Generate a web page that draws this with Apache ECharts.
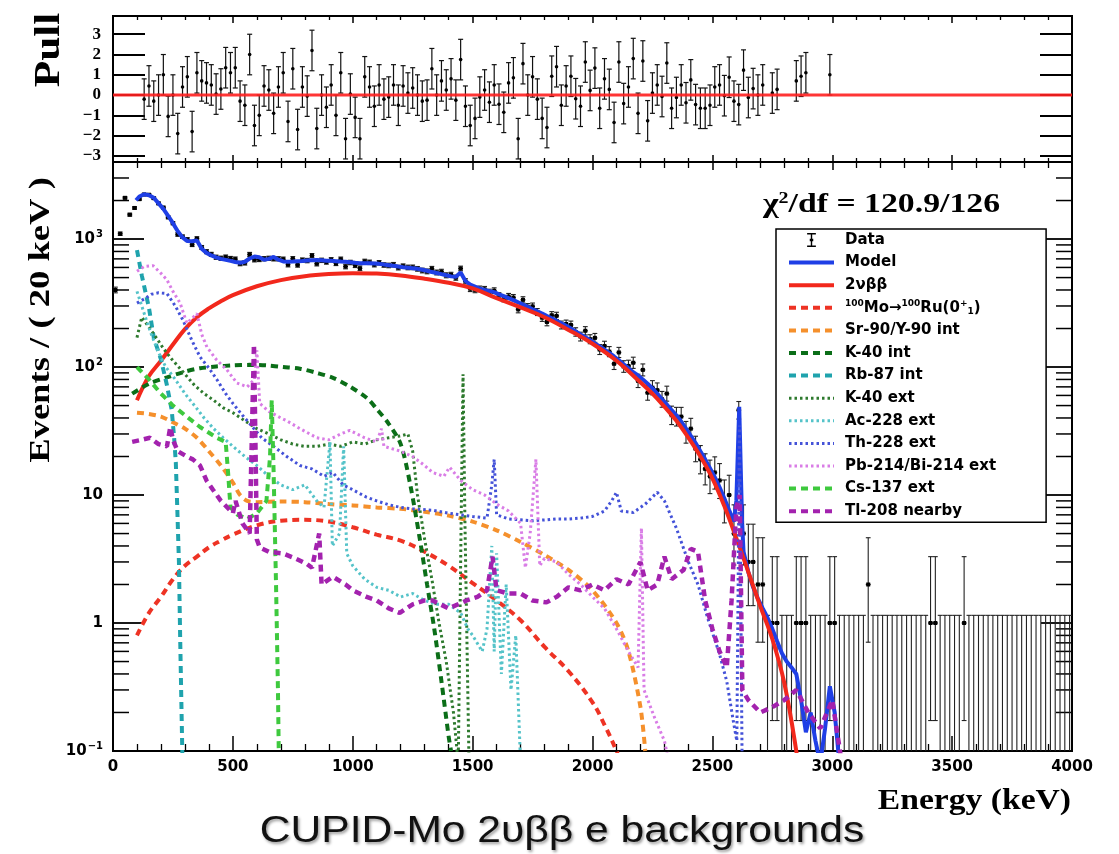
<!DOCTYPE html>
<html>
<head>
<meta charset="utf-8">
<script src="https://cdn.jsdelivr.net/npm/echarts@6.0.0/dist/echarts.min.js"></script>
<style>
  html, body { margin: 0; padding: 0; background: #ffffff; }
  #chart { width: 1119px; height: 854px; }
</style>
</head>
<body>
<div id="chart"></div>
<script>
// ---- Histogram definition: 20 keV bins, first bin centred at 10 keV ----
const binWidth = 20;
const firstBinCenter = 10;

// Observed counts per 20 keV bin (10 keV ... 3990 keV), five bins per row
const dataCounts = [
  400, 1100, 2100, 1550, 1750,
  2050, 2230, 2220, 2086, 1900,
  1761, 1479, 1330, 1086, 1043,
  993, 904, 1009, 860, 797,
  759, 721, 708, 723, 704,
  697, 644, 652, 758, 689,
  693, 702, 707, 701, 701,
  696, 631, 702, 628, 685,
  679, 742, 642, 682, 662,
  689, 646, 696, 610, 656,
  624, 591, 669, 658, 631,
  653, 627, 622, 630, 598,
  614, 600, 601, 585, 568,
  559, 586, 548, 556, 521,
  526, 499, 589, 468, 409,
  401, 408, 405, 385, 395,
  361, 342, 356, 349, 282,
  335, 295, 298, 269, 243,
  225, 254, 251, 213, 217,
  213, 188, 173, 192, 165,
  169, 137, 146, 132, 106,
  130, 101, 102, 108, 78,
  95, 63, 69, 66, 56,
  62, 42, 41, 41, 31,
  33, 23, 19, 16, 14,
  15, 13, 9, 10, 5,
  46, 5, 3, 3, 2,
  2, 0, 1, 1, 0,
  0, 0, 1, 1, 1,
  0, 0, 0, 0, 1,
  1, 0, 0, 0, 0,
  0, 0, 2, 0, 0,
  0, 0, 0, 0, 0,
  0, 0, 0, 0, 0,
  1, 1, 0, 0, 0,
  0, 0, 1, 0, 0,
  0, 0, 0, 0, 0,
  0, 0, 0, 0, 0,
  0, 0, 0, 0, 0,
  0, 0, 0, 0, 0
];

// Fit residuals (pulls) for the contiguous fit bins 130 ... 2710 keV
const pullStart = 130;
const pullValues = [
  -0.2, 0.45, -0.3, 0, 1.0, -1.05, 0, -1.9, 0.4, 0.9,
  -1.8, 1.1, 0.7, 0.6, 0.5, 0.05, 0.3, 1.35, 1.1, 1.35,
  -0.3, -0.5, 2.0, -1.5, -1.0, 0.45, 0.25, -0.9, 0.4, 1.1,
  -1.3, 1.3, -1.7, 0.4, -0.05, 2.2, -1.65, 0, -0.6, 0.5,
  -1.0, 1.1, -2.15, 0.05, -1.1, -2.15, 0.9, 0.4, -0.55, 0.5,
  -0.2, -0.1, 0.5, -0.5, 0.45, 0.1, 0.35, 0, -0.3, -0.25,
  1.3, 0, 0.7, 0.25, 0.8, -0.25, 1.75, -0.55, -1.5, -1.15,
  -0.1, 0.25, -0.35, 0.5, -0.45, -0.85, 0.6, 0.85, -2.15, 1.55,
  0, 0.9, -0.2, -1.15, -1.6,
  0.93, 1.4, -0.5, 0.45, 0.93, -0.18, -0.55, 1.63, 0.23, 1.33,
  -0.65, 0.8, 0.28, -1.35, 1.63, -0.42, 0.4, 1.8, -0.9, 1.68,
  -1.27, 0.1, 0.5, -0.07, 1.58, -0.65, -0.12, 0.5, -0.38, 0.75,
  -0.47, -0.65, -0.65, -0.5, 0.4, 0.5, -0.03, 0.88, -0.3, -0.47,
  1.23, -0.12, 0.32, 0, 0.5
];
// Remaining sparse fit bins above 2710 keV: [energy, pull]
const pullTail = [[2750, 0.1], [2770, 0.28], [2850, 0.7], [2870, 0.93], [2890, 1.1], [2990, 1.0]];

// Total fit model: [energy keV, events / 20 keV]
const modelCurve = [
  [96,2010],[110,2150],[130,2240],[150,2200],[170,2100],[190,1900],[210,1720],[230,1520],[250,1330],[270,1150],
  [290,1030],[310,965],[330,960],[350,975],[370,840],[390,780],[410,745],[430,720],[450,700],[470,688],
  [490,675],[510,662],[530,652],[550,665],[570,705],[590,730],[610,720],[630,690],[650,700],[670,725],
  [690,690],[710,668],[730,665],[750,668],[770,672],[790,675],[810,680],[830,684],[850,685],[870,682],
  [890,678],[910,676],[930,672],[950,668],[970,665],[990,660],[1010,652],[1030,646],[1050,646],[1070,648],
  [1090,645],[1110,640],[1130,632],[1150,625],[1170,618],[1190,610],[1210,603],[1230,598],[1250,592],[1270,585],
  [1290,575],[1310,565],[1330,552],[1350,543],[1370,532],[1390,521],[1410,511],[1430,508],[1450,548],[1470,470],
  [1490,440],[1510,425],[1530,410],[1550,400],[1570,392],[1590,385],[1610,370],[1630,358],[1650,345],[1670,333],
  [1690,320],[1710,308],[1730,295],[1750,283],[1770,272],[1790,262],[1810,250],[1830,240],[1850,230],[1870,220],
  [1890,210],[1910,200],[1930,190],[1950,180],[1970,171],[1990,162],[2010,153],[2030,145],[2050,137],[2070,129],
  [2090,121],[2110,113],[2130,105],[2150,98],[2170,91],[2190,86],[2210,80],[2230,74],[2250,68],[2270,62],
  [2290,56],[2310,51],[2330,46],[2350,42],[2370,37.5],[2390,33],[2410,29],[2430,25.5],[2450,22],[2470,19],
  [2490,16.2],[2510,13.8],[2530,11.5],[2550,9.4],[2570,7.6],[2590,6.2],[2600,9],[2612,49],[2624,6],[2630,3.6],
  [2650,2.5],[2670,1.9],[2690,1.55],[2710,1.3],[2730,1.1],[2750,0.9],[2770,0.72],[2790,0.58],[2810,0.5],[2830,0.45],
  [2850,0.4],[2870,0.25],[2890,0.14],[2910,0.2],[2930,0.12],[2950,0.08],[2970,0.15],[2990,0.32],[3010,0.2],[3030,0.08]
];

// Signal: 2-neutrino double beta decay to the ground state
const twoNuCurve = [
  [100,55],[150,85],[200,112],[250,150],[300,198],[350,245],[400,287],[450,327],[500,365],[600,428],
  [700,478],[800,513],[900,533],[1000,541],[1100,537],[1200,520],[1300,490],[1400,455],[1500,412],[1600,345],
  [1700,292],[1800,245],[1900,195],[2000,152],[2100,112],[2200,76],[2250,62],[2300,49],[2350,38],[2400,28],
  [2450,20],[2500,13.5],[2550,8.2],[2600,4.6],[2650,2.5],[2700,1.35],[2750,0.75],[2800,0.34],[2850,0.1],[2870,0.05]
];

// Background components
const moRuCurve = [
  [100,0.8],[150,1.2],[200,1.6],[250,2.2],[300,2.8],[350,3.3],[400,3.9],[450,4.4],[500,4.9],[600,5.8],
  [700,6.3],[800,6.4],[900,6.2],[1000,5.6],[1100,4.9],[1200,4.4],[1300,3.6],[1400,2.8],[1500,2.05],[1600,1.5],
  [1700,1.05],[1800,0.65],[1900,0.42],[2000,0.24],[2050,0.16],[2100,0.1],[2130,0.07]
];
const srYCurve = [
  [100,44],[150,43],[200,41],[250,37],[300,33],[350,28],[400,22],[450,17],[500,12.5],[530,10],
  [560,9],[600,8.8],[700,8.9],[800,8.8],[900,8.5],[1000,8.3],[1100,8.0],[1200,7.8],[1300,7.4],[1400,6.9],
  [1500,6.2],[1600,5.3],[1700,4.3],[1800,3.4],[1900,2.6],[2000,1.8],[2100,1.0],[2150,0.6],[2200,0.22],[2220,0.1]
];
const k40IntCurve = [
  [80,62],[150,74],[225,83],[300,92],[363,98],[430,101],[500,103],[570,104],[640,103],[710,100],
  [780,97],[850,90],[920,82],[990,70],[1060,57],[1100,47],[1150,36],[1200,25],[1240,12],[1280,4.5],
  [1310,2],[1340,0.9],[1370,0.35],[1400,0.13],[1410,0.1]
];
const rb87Curve = [
  [100,820],[120,520],[150,290],[170,170],[200,115],[225,72],[245,46],[255,28],[262,18],[268,8],
  [275,3],[280,0.8],[285,0.25],[290,0.08]
];
const k40ExtCurve = [
  [100,170],[120,245],[150,205],[180,170],[210,140],[240,118],[270,102],[300,88],[340,72],[380,62],
  [420,55],[460,48],[500,44],[550,38],[600,33],[650,30],[700,27],[750,25],[800,24],[850,24],
  [900,25],[950,24],[1000,26],[1050,25],[1100,27],[1150,28],[1200,29],[1230,30],[1250,22],[1270,10],
  [1300,4.5],[1330,2.2],[1360,1.0],[1390,0.5],[1420,0.2],[1440,0.08],[1452,6],[1460,88],[1468,6],[1485,0.08]
];
const ac228Curve = [
  [100,390],[120,300],[140,230],[160,180],[190,130],[220,100],[260,80],[300,62],[340,50],[380,40],
  [420,33],[460,28],[500,24],[550,20],[600,17],[650,14],[700,12],[750,11],[800,12],[850,9],
  [880,8],[905,26],[915,4],[945,5],[962,24],[975,3.5],[1000,2.8],[1050,2.2],[1100,1.9],[1150,1.8],
  [1200,1.6],[1250,1.7],[1300,1.5],[1350,1.4],[1400,1.4],[1450,1.2],[1480,0.9],[1500,0.8],[1540,0.6],[1560,0.9],
  [1580,4],[1590,0.6],[1600,3.5],[1620,0.4],[1640,2.0],[1660,0.3],[1680,0.8],[1700,0.08]
];
const th228Curve = [
  [100,316],[130,340],[160,370],[190,380],[225,375],[260,300],[292,232],[330,160],[363,120],[400,98],
  [433,80],[470,62],[500,52],[540,42],[571,36],[620,28],[670,24],[725,20],[780,17],[830,16],
  [880,14],[917,15],[960,12],[1000,11],[1058,9.6],[1100,9],[1150,8.4],[1200,8],[1250,7.8],[1333,7.6],
  [1400,7.2],[1450,7],[1500,6.8],[1560,6.6],[1580,12],[1590,19],[1600,7],[1650,6.5],[1700,6.4],[1750,6.3],
  [1808,6.4],[1850,6.5],[1900,6.5],[1950,6.6],[2000,6.8],[2050,7.5],[2080,9],[2100,10.5],[2120,7.5],[2170,7.3],
  [2220,8.5],[2270,10.5],[2300,9],[2350,5.5],[2400,3],[2440,2],[2480,1.1],[2530,0.57],[2560,0.35],[2590,0.16],
  [2602,0.12],[2613,35],[2624,0.08]
];
const pbBiCurve = [
  [100,560],[130,610],[167,620],[200,540],[225,480],[250,390],[280,316],[308,220],[330,240],[350,262],
  [370,180],[392,143],[430,115],[475,95],[517,75],[560,70],[590,80],[600,135],[612,52],[650,45],
  [700,40],[725,38],[780,33],[850,28],[900,27],[950,30],[988,32],[1050,28],[1100,26],[1120,33],
  [1130,24],[1200,22],[1250,20],[1300,17],[1333,15],[1380,14],[1404,16.5],[1450,13],[1500,11],[1550,10],
  [1600,8.5],[1650,7.5],[1700,6],[1720,2.7],[1740,5],[1764,19],[1780,2.8],[1800,3.2],[1850,3.0],[1900,2.4],
  [1950,2.0],[2000,1.6],[2050,1.3],[2100,0.9],[2150,0.6],[2190,0.45],[2204,5.5],[2215,0.3],[2260,0.18],[2300,0.12],
  [2320,0.08]
];
const cs137Curve = [
  [100,100],[150,80],[200,62],[250,50],[300,42],[363,34],[433,28],[470,26],[480,15],[490,8],
  [520,7],[560,6.5],[600,7.2],[640,9],[655,20],[662,55],[670,15],[680,2],[688,0.3],[692,0.08]
];
const tl208Curve = [
  [80,26],[120,27],[154,28],[190,25],[225,24],[239,34],[250,27],[270,22],[308,20],[333,19],
  [363,17],[390,13],[417,11],[450,9],[500,7.2],[511,9],[540,6],[570,5],[588,150],[600,4.5],
  [612,3.9],[650,3.6],[708,3.5],[760,3.2],[808,2.9],[830,2.7],[860,5],[870,2.0],[917,2.3],[970,2.0],
  [1000,1.8],[1058,1.6],[1100,1.5],[1150,1.3],[1196,1.2],[1250,1.4],[1300,1.5],[1333,1.5],[1400,1.3],[1475,1.5],
  [1520,1.6],[1560,1.8],[1583,3.3],[1600,1.8],[1650,1.7],[1700,1.7],[1750,1.5],[1808,1.45],[1850,1.6],[1900,1.9],
  [1950,1.8],[2000,2.0],[2050,1.8],[2100,2.2],[2150,2.0],[2200,3.0],[2230,1.8],[2270,2.0],[2300,3.3],[2330,2.2],
  [2380,2.6],[2410,3.8],[2440,3.6],[2470,1.5],[2500,0.9],[2530,0.6],[2560,0.45],[2580,1.5],[2600,8],[2614,10],
  [2625,0.3],[2650,0.25],[2700,0.2],[2750,0.22],[2800,0.25],[2850,0.3],[2900,0.2],[2950,0.15],[3000,0.25],[3040,0.08]
];

// Log-axis minor tick values (2..9 per decade)
const logMinorTicks = [0.2,0.3,0.4,0.5,0.6,0.7,0.8,0.9, 2,3,4,5,6,7,8,9, 20,30,40,50,60,70,80,90,
                       200,300,400,500,600,700,800,900, 2000,3000];

// ---- Axis ranges ----
const E_MIN = 0, E_MAX = 4000;
const Y_MIN = 0.1, Y_MAX = 4000;
const PULL_MIN = -3.3, PULL_MAX = 3.9;

// Poisson (Garwood) 68% intervals for small counts
const poissonLow  = [0, 0.173, 0.708, 1.367, 2.086, 2.840, 3.620, 4.419, 5.232, 6.057, 6.891];
const poissonHigh = [1.148, 3.300, 4.638, 5.918, 7.163, 8.382, 9.584, 10.77, 11.95, 13.11, 14.27];
function errLow(n)  { return n <= 10 ? poissonLow[n]  : n - Math.sqrt(n); }
function errHigh(n) { return n <= 10 ? poissonHigh[n] : n + Math.sqrt(n) + 1; }

const MO_RU = '100Mo→100Ru(0+1)';
const SANS = 'DejaVu Sans';
const SERIF = 'Liberation Serif';

const dataPoints = dataCounts.map((n, i) => [firstBinCenter + i * binWidth, n]);
const pullPoints = pullValues.map((p, i) => [pullStart + i * binWidth, p]).concat(pullTail);

function energyAxis(gridIndex, position, majorLen, minorLen, showLabels) {
  return {
    type: 'value', gridIndex, position, min: E_MIN, max: E_MAX, interval: 500,
    axisLine: { show: true, onZero: false, lineStyle: { color: '#000', width: 2 } },
    axisTick: { show: true, inside: true, length: majorLen, lineStyle: { color: '#000', width: 1.5 } },
    minorTick: { show: true, splitNumber: 5, length: minorLen, lineStyle: { color: '#000', width: 1.3 } },
    splitLine: { show: false },
    axisLabel: showLabels ? {
      show: true, margin: 9, color: '#000', fontFamily: SANS, fontWeight: 'bold', fontSize: 15,
      formatter: v => String(Math.round(v))
    } : { show: false }
  };
}

function pullAxis(position, showLabels) {
  return {
    type: 'value', gridIndex: 0, position, min: PULL_MIN, max: PULL_MAX,
    minInterval: 1, maxInterval: 1, splitNumber: 7,
    axisLine: { show: true, onZero: false, lineStyle: { color: '#000', width: 2 } },
    axisTick: { show: true, inside: true, length: 32, lineStyle: { color: '#000', width: 2 } },
    splitLine: { show: false },
    axisLabel: showLabels ? {
      show: true, margin: 12, color: '#000', fontFamily: SERIF, fontWeight: 'bold', fontSize: 17,
      showMinLabel: false, showMaxLabel: false,
      formatter: v => {
        const r = Math.round(v);
        if (Math.abs(v - r) > 1e-6) return '';
        return r < 0 ? '\u2212' + (-r) : String(r);
      }
    } : { show: false }
  };
}

function countAxis(position, showLabels) {
  return {
    type: 'log', logBase: 10, gridIndex: 1, position, min: Y_MIN, max: Y_MAX,
    axisLine: { show: true, onZero: false, lineStyle: { color: '#000', width: 2 } },
    axisTick: { show: true, inside: true, length: 31, lineStyle: { color: '#000', width: 1.8 } },
    splitLine: { show: false },
    axisLabel: showLabels ? {
      show: true, margin: 10, color: '#000', fontFamily: SANS, fontWeight: 'bold', fontSize: 15,
      formatter: v => {
        const lg = Math.log10(v), p = Math.round(lg);
        if (Math.abs(lg - p) > 1e-6) return '';
        if (p === 0) return '1';
        if (p === 1) return '10';
        return '10{sup|' + (p < 0 ? '\u2212' + (-p) : p) + '}';
      },
      rich: {
        sup: { fontFamily: SANS, fontWeight: 'bold', fontSize: 10, color: '#000', padding: [0, 0, 9, 1] }
      }
    } : { show: false }
  };
}

function curve(name, data, color, kind, extra) {
  const dashed = kind === 'dashed', dotted = kind === 'dotted';
  return Object.assign({
    name, type: 'line', xAxisIndex: 2, yAxisIndex: 2, data,
    symbol: 'none', showSymbol: false, silent: true, clip: true, z: 5,
    lineStyle: {
      color, width: dotted ? 3 : 4,
      type: dashed ? [7, 5] : dotted ? [2.5, 3] : 'solid', cap: 'butt'
    },
    itemStyle: { color }
  }, extra || {});
}

// legend sample strokes, matching the plotted strokes
const SOLID_KEY = { width: 4, type: 'solid' };
const DASH_KEY = { width: 4, type: [7, 5] };
const DOT_KEY = { width: 3, type: [2.5, 3] };

const option = {
  animation: false,
  backgroundColor: '#ffffff',
  grid: [
    { left: 113, top: 16, width: 959, height: 146, show: true, borderColor: '#000', borderWidth: 2, backgroundColor: 'transparent' },
    { left: 113, top: 162, width: 959, height: 589, show: true, borderColor: '#000', borderWidth: 2, backgroundColor: 'transparent' }
  ],
  xAxis: [
    energyAxis(0, 'bottom', 7, 4, false),
    energyAxis(0, 'top', 7, 4, false),
    energyAxis(1, 'bottom', 15, 7, true),
    energyAxis(1, 'top', 8, 6, false)
  ],
  yAxis: [
    pullAxis('left', true),
    pullAxis('right', false),
    countAxis('left', true),
    countAxis('right', false)
  ],
  legend: {
    orient: 'vertical', left: 776, top: 229,
    padding: [2, 50, 2, 11], itemGap: 4.6, itemWidth: 45, itemHeight: 14,
    backgroundColor: '#ffffff', borderColor: '#000', borderWidth: 1.5,
    selectedMode: false, z: 20,
    // line samples only: hide the marker that line series add to their legend icon
    itemStyle: { opacity: 0 },
    lineStyle: { opacity: 1, width: 'inherit', type: 'inherit' },
    textStyle: {
      fontFamily: SANS, fontWeight: 'bold', fontSize: 15, color: '#000', lineHeight: 18, padding: [0, 0, 0, 6],
      rich: {
        sup: { fontFamily: SANS, fontWeight: 'bold', fontSize: 9, color: '#000', lineHeight: 10, padding: [0, 0, 8, 0] },
        sub: { fontFamily: SANS, fontWeight: 'bold', fontSize: 9, color: '#000', lineHeight: 10, padding: [8, 0, 0, 0] },
        base: { fontFamily: SANS, fontWeight: 'bold', fontSize: 15, color: '#000', lineHeight: 18 }
      }
    },
    formatter: name => name === MO_RU
      ? '{sup|100}{base|Mo→}{sup|100}{base|Ru(0}{sup|+}{sub|1}{base|)}'
      : name,
    data: [
      { name: 'Data', icon: 'path://M0,0H10V1.6H0Z M4.2,0H5.8V16H4.2Z M0,14.4H10V16H0Z M3,6.5H7V9.5H3Z',
        itemStyle: { opacity: 1, color: '#000' } },
      { name: 'Model', lineStyle: SOLID_KEY },
      { name: '2νββ', lineStyle: SOLID_KEY },
      { name: MO_RU, lineStyle: DASH_KEY },
      { name: 'Sr-90/Y-90 int', lineStyle: DASH_KEY },
      { name: 'K-40 int', lineStyle: DASH_KEY },
      { name: 'Rb-87 int', lineStyle: DASH_KEY },
      { name: 'K-40 ext', lineStyle: DOT_KEY },
      { name: 'Ac-228 ext', lineStyle: DOT_KEY },
      { name: 'Th-228 ext', lineStyle: DOT_KEY },
      { name: 'Pb-214/Bi-214 ext', lineStyle: DOT_KEY },
      { name: 'Cs-137 ext', lineStyle: DASH_KEY },
      { name: 'Tl-208 nearby', lineStyle: DASH_KEY }
    ]
  },
  graphic: [
    {
      type: 'text', x: 50, y: 50, rotation: Math.PI / 2, scaleX: 1.2, z: 30,
      style: { text: 'Pull', fontFamily: SERIF, fontWeight: 'bold', fontSize: 36, fill: '#000',
               align: 'center', verticalAlign: 'middle' }
    },
    {
      type: 'text', x: 41, y: 320, rotation: Math.PI / 2, scaleX: 1.22, z: 30,
      style: { text: 'Events / ( 20 keV )', fontFamily: SERIF, fontWeight: 'bold', fontSize: 30, fill: '#000',
               align: 'center', verticalAlign: 'middle' }
    },
    {
      type: 'text', x: 1071, y: 801, scaleX: 1.12, z: 30,
      style: { text: 'Energy (keV)', fontFamily: SERIF, fontWeight: 'bold', fontSize: 30, fill: '#000',
               align: 'right', verticalAlign: 'middle' }
    },
    {
      type: 'text', x: 763, y: 205, scaleX: 1.25, z: 30,
      style: {
        text: 'χ{sup|2}/df = 120.9/126', fontFamily: SERIF, fontWeight: 'bold', fontSize: 27, fill: '#000',
        align: 'left', verticalAlign: 'middle',
        rich: { sup: { fontFamily: SERIF, fontWeight: 'bold', fontSize: 16, fill: '#000', padding: [0, 0, 12, 0] } }
      }
    },
    {
      type: 'text', x: 562, y: 832, scaleX: 1.15, z: 30,
      style: {
        text: 'CUPID-Mo 2υββ e backgrounds', fontFamily: 'Liberation Sans', fontSize: 37, fill: '#111',
        align: 'center', verticalAlign: 'middle',
        textShadowColor: 'rgba(0,0,0,0.4)', textShadowBlur: 3, textShadowOffsetX: 1.5, textShadowOffsetY: 1.5
      }
    }
  ],
  series: [
    // Pull panel: residual points with unit error bars
    {
      name: 'Pull', type: 'custom', xAxisIndex: 0, yAxisIndex: 0, data: pullPoints, silent: true, z: 4,
      itemStyle: { color: '#000' },
      renderItem: (params, api) => {
        const e = api.value(0), p = api.value(1);
        const c = api.coord([e, p]);
        const lo = api.coord([e, Math.max(p - 1, PULL_MIN)]);
        const hi = api.coord([e, Math.min(p + 1, PULL_MAX)]);
        const stroke = { stroke: '#111', lineWidth: 1.2 };
        return {
          type: 'group', children: [
            { type: 'line', shape: { x1: c[0], y1: lo[1], x2: c[0], y2: hi[1] }, style: stroke },
            { type: 'line', shape: { x1: c[0] - 2.5, y1: lo[1], x2: c[0] + 2.5, y2: lo[1] }, style: stroke },
            { type: 'line', shape: { x1: c[0] - 2.5, y1: hi[1], x2: c[0] + 2.5, y2: hi[1] }, style: stroke },
            { type: 'circle', shape: { cx: c[0], cy: c[1], r: 1.8 }, style: { fill: '#000' } }
          ]
        };
      }
    },
    {
      name: 'PullZero', type: 'line', xAxisIndex: 0, yAxisIndex: 0, data: [[E_MIN, 0], [E_MAX, 0]],
      symbol: 'none', silent: true, z: 10, lineStyle: { color: '#ff1f1f', width: 3, opacity: 0.9 }
    },
    // Main panel: data with Poisson error bars
    {
      name: 'Data', type: 'custom', xAxisIndex: 2, yAxisIndex: 2, data: dataPoints, silent: true, z: 2,
      itemStyle: { color: '#000' },
      renderItem: (params, api) => {
        const e = api.value(0), n = api.value(1);
        const low = errLow(n), high = errHigh(n);
        const yLo = Math.max(low, Y_MIN), yHi = Math.min(high, Y_MAX);
        const pLo = api.coord([e, yLo]), pHi = api.coord([e, yHi]);
        const xL = api.coord([e - binWidth / 2, yHi])[0], xR = api.coord([e + binWidth / 2, yHi])[0];
        const stroke = { stroke: '#222', lineWidth: 1.1 };
        const children = [
          { type: 'line', shape: { x1: pLo[0], y1: pLo[1], x2: pHi[0], y2: pHi[1] }, style: stroke },
          { type: 'line', shape: { x1: xL, y1: pHi[1], x2: xR, y2: pHi[1] }, style: stroke }
        ];
        if (low > Y_MIN) {
          children.push({ type: 'line', shape: { x1: xL, y1: pLo[1], x2: xR, y2: pLo[1] }, style: stroke });
        }
        if (n > 0) {
          const c = api.coord([e, n]);
          children.push({ type: 'line', shape: { x1: xL, y1: c[1], x2: xR, y2: c[1] }, style: { stroke: '#000', lineWidth: 1.5 } });
          children.push({ type: 'rect', shape: { x: c[0] - 2, y: c[1] - 2, width: 4, height: 4 }, style: { fill: '#000' } });
        }
        return { type: 'group', children };
      }
    },
    curve('Model', modelCurve, '#1f3fe6', 'solid', { z: 3, lineStyle: { color: '#1f3fe6', width: 4, type: 'solid' } }),
    curve('2νββ', twoNuCurve, '#f2281c', 'solid', { z: 4, smooth: 0.4, lineStyle: { color: '#f2281c', width: 4, type: 'solid' } }),
    curve(MO_RU, moRuCurve, '#ee3324', 'dashed', { smooth: 0.4 }),
    curve('Sr-90/Y-90 int', srYCurve, '#f5902c', 'dashed', { smooth: 0.3 }),
    curve('K-40 int', k40IntCurve, '#0b6e18', 'dashed', { smooth: 0.3 }),
    curve('Rb-87 int', rb87Curve, '#1fa3ad', 'dashed'),
    curve('K-40 ext', k40ExtCurve, '#2e7a2e', 'dotted'),
    curve('Ac-228 ext', ac228Curve, '#55c3c9', 'dotted'),
    curve('Th-228 ext', th228Curve, '#4452d8', 'dotted'),
    curve('Pb-214/Bi-214 ext', pbBiCurve, '#d97de6', 'dotted'),
    curve('Cs-137 ext', cs137Curve, '#3ec93e', 'dashed'),
    curve('Tl-208 nearby', tl208Curve, '#a322ae', 'dashed', { lineStyle: { color: '#a322ae', width: 4.5, type: [7, 5], cap: 'butt' } }),
    // Log-axis minor ticks on both sides of the main frame
    {
      name: 'LogMinorTicks', type: 'custom', xAxisIndex: 2, yAxisIndex: 2, silent: true, z: 1,
      data: logMinorTicks.map(v => [E_MIN, v]),
      renderItem: (params, api) => {
        const v = api.value(1);
        const pL = api.coord([E_MIN, v]), pR = api.coord([E_MAX, v]);
        const stroke = { stroke: '#000', lineWidth: 1.5 };
        return {
          type: 'group', children: [
            { type: 'line', shape: { x1: pL[0], y1: pL[1], x2: pL[0] + 16, y2: pL[1] }, style: stroke },
            { type: 'line', shape: { x1: pR[0] - 16, y1: pR[1], x2: pR[0], y2: pR[1] }, style: stroke }
          ]
        };
      }
    }
  ]
};

const chart = echarts.init(document.getElementById('chart'), null, { renderer: 'canvas', width: 1119, height: 854 });
chart.setOption(option);
</script>
</body>
</html>
